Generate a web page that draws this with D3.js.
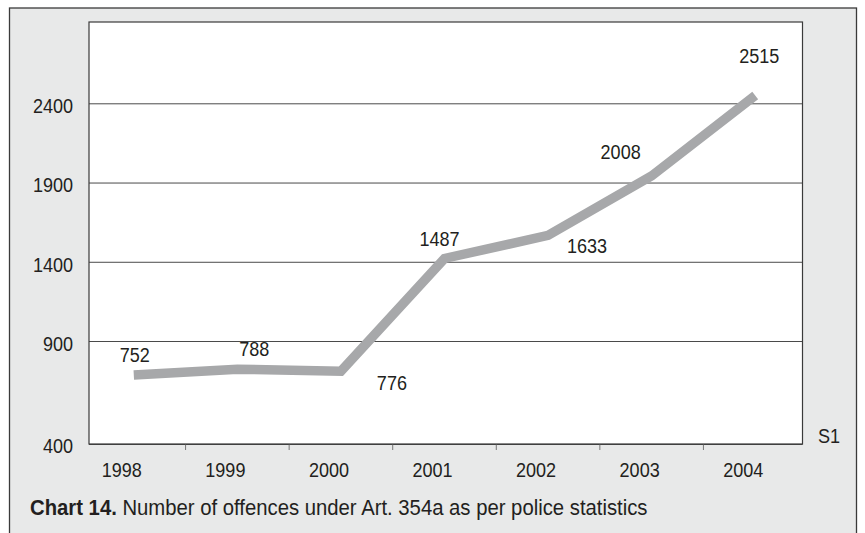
<!DOCTYPE html>
<html>
<head>
<meta charset="utf-8">
<script src="https://cdn.jsdelivr.net/npm/d3@7/dist/d3.min.js"></script>
<style>
  html, body { margin: 0; padding: 0; background: #ffffff; }
  svg { display: block; }
  text { font-family: "Liberation Sans", Arial, sans-serif; fill: #231f20; }
</style>
</head>
<body>
<svg id="chart" width="865" height="533"></svg>
<script>
// Police statistics: offences under Art. 354a, 1998-2004
const years = ["1998", "1999", "2000", "2001", "2002", "2003", "2004"];
const offences = [752, 788, 776, 1487, 1633, 2008, 2515];
const yTicks = [400, 900, 1400, 1900, 2400];
const seriesName = "S1";
const captionLead = "Chart 14.";
const captionText = " Number of offences under Art. 354a as per police statistics";

// Placement of each value label relative to its point (dx, dy)
const labelNudges = [[1, -20], [17, -20], [51, 12], [-5, -20], [39, 10], [-31, -24], [4, -40]];

const W = 865, H = 533;
const plot = { left: 89, top: 22, right: 802.5, bottom: 444 };
const svg = d3.select("#chart");

// Narrow the glyphs horizontally around each text's own anchor point
function condense(sel, sx) {
  sel.each(function () {
    const t = d3.select(this);
    const tx = +t.attr("x") || 0, ty = +t.attr("y") || 0;
    t.attr("transform", `translate(${tx},${ty}) scale(${sx},1) translate(${-tx},${-ty})`);
  });
}

// outer panel
svg.append("rect")
  .attr("x", 9.5).attr("y", 8).attr("width", 847).attr("height", H + 10)
  .attr("fill", "#e8e9e9").attr("stroke", "#3a3a3a").attr("stroke-width", 1.3);

// plot area
svg.append("rect")
  .attr("x", plot.left).attr("y", plot.top)
  .attr("width", plot.right - plot.left).attr("height", plot.bottom - plot.top)
  .attr("fill", "#ffffff");

// scales
const x = d3.scaleBand().domain(years).range([82, 807]).padding(0);
const y = d3.scaleLinear().domain([900, 2400]).range([341, 103.3]);
// axis scale: the lowest tick sits on the baseline
const yAxisScale = d3.scaleLinear()
  .domain([yTicks[0], yTicks[1], yTicks[yTicks.length - 1]])
  .range([plot.bottom, y(yTicks[1]), y(yTicks[yTicks.length - 1])]);

const labelSize = 20.5, labelNarrow = 0.88;

// y axis with gridlines
const yAxis = svg.append("g")
  .attr("transform", `translate(${plot.left},0)`)
  .call(d3.axisLeft(yAxisScale).tickValues(yTicks).tickSize(-(plot.right - plot.left)).tickPadding(16).tickFormat(d3.format("d")));
yAxis.select(".domain").remove();
yAxis.selectAll(".tick line").attr("stroke", "#4a4a4a").attr("stroke-width", 1);
yAxis.selectAll(".tick text")
  .attr("font-size", labelSize).attr("fill", "#231f20")
  .attr("dy", (d, i) => i === 0 ? "0.4em" : "0.45em")
  .style("font-family", null)
  .call(condense, labelNarrow);

// x axis labels
const xAxis = svg.append("g")
  .attr("transform", `translate(0,${plot.bottom})`)
  .call(d3.axisBottom(x).tickSize(0).tickPadding(0));
xAxis.select(".domain").remove();
xAxis.selectAll(".tick text")
  .attr("font-size", labelSize).attr("fill", "#231f20")
  .attr("x", -12).attr("y", 26).attr("dy", "0.35em")
  .call(condense, labelNarrow);

// tick marks between categories
svg.append("g").selectAll("line")
  .data(years.slice(1))
  .join("line")
  .attr("x1", d => x(d)).attr("x2", d => x(d))
  .attr("y1", plot.bottom).attr("y2", plot.bottom + 6)
  .attr("stroke", "#777").attr("stroke-width", 1);

// plot frame
svg.append("rect")
  .attr("x", plot.left).attr("y", plot.top)
  .attr("width", plot.right - plot.left).attr("height", plot.bottom - plot.top)
  .attr("fill", "none").attr("stroke", "#3a3a3a").attr("stroke-width", 1.2);

// series line
const points = years.map((yr, i) => ({ year: yr, value: offences[i] }));
const series = svg.append("g").attr("transform", "translate(0,10.5)");
series.append("path")
  .datum(points)
  .attr("fill", "none")
  .attr("stroke", "#a7a8aa")
  .attr("stroke-width", 9.5)
  .attr("stroke-linejoin", "miter")
  .attr("stroke-linecap", "butt")
  .attr("d", d3.line().x(d => x(d.year) + x.bandwidth() / 2).y(d => y(d.value)));

// value labels
series.selectAll("text.value")
  .data(points)
  .join("text")
  .attr("class", "value")
  .attr("x", (d, i) => x(d.year) + x.bandwidth() / 2 + labelNudges[i][0])
  .attr("y", (d, i) => y(d.value) + labelNudges[i][1])
  .attr("dy", "0.35em")
  .attr("text-anchor", "middle")
  .attr("font-size", labelSize)
  .text(d => d.value)
  .call(condense, labelNarrow);

// series name
svg.append("text")
  .attr("x", 829).attr("y", 436).attr("dy", "0.35em")
  .attr("text-anchor", "middle").attr("font-size", labelSize)
  .text(seriesName)
  .call(condense, labelNarrow);

// caption
const cap = svg.append("text")
  .attr("x", 30).attr("y", 515).attr("font-size", 22.3);
cap.append("tspan").attr("font-weight", "bold").text(captionLead);
cap.append("tspan").text(captionText);
cap.call(condense, 0.91);
</script>
</body>
</html>
